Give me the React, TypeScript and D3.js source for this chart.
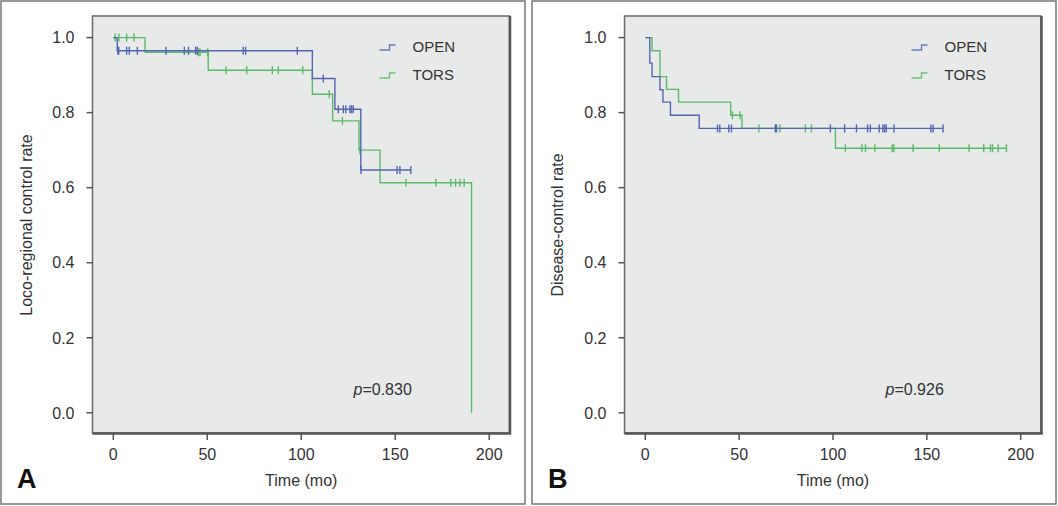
import React from "react";
import * as d3 from "d3";

// ---------- DATA ----------
const xTicks = [0, 50, 100, 150, 200];
const yTicks = [0, 0.2, 0.4, 0.6, 0.8, 1.0];
const seriesNames = ["OPEN", "TORS"];

// Panel A: loco-regional control
const aOpenDrops: [number, number][] = [[2.1, 0.965], [105.9, 0.891], [117.9, 0.809], [131.7, 0.647]];
const aOpenEnd = 158.3;
const aOpenCensor = [2.4, 2.9, 7.1, 8.5, 12.8, 28.0, 37.8, 40.0, 43.8, 44.7, 69.1, 70.4, 97.9, 111.7, 119.7, 122.4, 123.7, 125.9, 126.8, 127.7, 131.8, 151.0, 152.5, 158.3];
const aTorsDrops: [number, number][] = [[16.9, 0.961], [50.5, 0.913], [105.9, 0.849], [116.7, 0.778], [130.7, 0.70], [141.9, 0.613], [190.6, 0]];
const aTorsEnd = 190.6;
const aTorsCensor = [1.0, 3.0, 7.1, 11.0, 45.2, 46.1, 50.2, 60.0, 71.0, 84.6, 87.8, 100.8, 114.9, 121.9, 131.2, 155.7, 171.6, 179.6, 182.1, 184.4, 186.7];

// Panel B: disease control
const bOpenDrops: [number, number][] = [[2.4, 0.932], [3.6, 0.896], [7.8, 0.861], [9.4, 0.828], [13.4, 0.793], [28.7, 0.758]];
const bOpenEnd = 158.6;
const bOpenCensor = [38.5, 39.7, 44.5, 45.9, 69.3, 69.9, 98.6, 106.2, 112.5, 118.4, 119.9, 124.6, 126.6, 127.5, 128.4, 132.5, 152.1, 153.3, 158.6];
const bTorsDrops: [number, number][] = [[3.6, 0.965], [7.8, 0.896], [11.3, 0.862], [17.7, 0.828], [45.5, 0.793], [51.5, 0.758], [101.3, 0.705]];
const bTorsEnd = 192.6;
const bTorsCensor = [46.4, 50.4, 60.5, 71.7, 85.3, 88.5, 106.6, 115.4, 117.3, 122.3, 131.5, 132.4, 142.7, 156.6, 172.5, 180.3, 183.9, 185.0, 188.0, 192.4];

const COLORS = { OPEN: "#5366b0", TORS: "#5cba6a" };
const FONT = "'Liberation Sans', Arial, sans-serif";
const TXT = "#333";

type Series = { name: string; drops: [number, number][]; end: number; censor: number[] };

function survAt(drops: [number, number][], t: number) {
  let s = 1;
  for (const [dt, v] of drops) if (dt <= t + 1e-9) s = v;
  return s;
}

function Panel(props: {
  ox: number; ow: number; plotL: number; plotR: number; letter: string; yLabel: string; pval: string; series: Series[];
}) {
  const { ox, ow, plotL, plotR, letter, yLabel, pval, series } = props;
  const plotT = 16, plotB = 433;
  const x = d3.scaleLinear().domain([0, 200]).range([plotL + 20.8, plotR - 20.3]);
  const y = d3.scaleLinear().domain([0, 1]).range([412.8, 37.6]);
  const line = d3.line<[number, number]>().x(d => x(d[0])).y(d => y(d[1])).curve(d3.curveStepAfter);
  return (
    <g>
      <rect x={ox} y={1} width={ow} height={503} fill="#fff" stroke="#777" strokeWidth={1.5} />
      <rect x={plotL} y={plotT} width={plotR - plotL} height={plotB - plotT} fill="#e8e9e9" stroke="#6a6a6a" strokeWidth={1.5} />
      <line x1={plotR + 0.5} x2={plotR + 0.5} y1={plotT} y2={plotB + 1} stroke="#555" strokeWidth={2.5} />
      <line x1={plotL} x2={plotR + 1.5} y1={plotB + 0.5} y2={plotB + 0.5} stroke="#555" strokeWidth={2.5} />
      {yTicks.map(v => (
        <g key={v}>
          <line x1={plotL - 6} x2={plotL} y1={y(v)} y2={y(v)} stroke="#555" strokeWidth={1.5} />
          <text x={plotL - 18} y={y(v)} dy="0.36em" textAnchor="end" fontFamily={FONT} fontSize={16} fill={TXT}>{v.toFixed(1)}</text>
        </g>
      ))}
      {xTicks.map(v => (
        <g key={v}>
          <line x1={x(v)} x2={x(v)} y1={plotB} y2={plotB + 7} stroke="#555" strokeWidth={1.5} />
          <text x={x(v)} y={460} textAnchor="middle" fontFamily={FONT} fontSize={16} fill={TXT}>{v}</text>
        </g>
      ))}
      <text x={x(100)} y={486} textAnchor="middle" fontFamily={FONT} fontSize={16} fill={TXT}>Time (mo)</text>
      <text transform={`translate(${ox + 31},225) rotate(-90)`} textAnchor="middle" fontFamily={FONT} fontSize={16} fill={TXT}>{yLabel}</text>
      <text x={ox + 16} y={488} fontFamily={FONT} fontSize={27} fontWeight="bold" fill="#111">{letter}</text>
      <text x={plotL + 261} y={395} fontFamily={FONT} fontSize={16} fill={TXT}><tspan fontStyle="italic">p</tspan>={pval}</text>
      {series.map((s) => {
        const pts: [number, number][] = [[0, 1], ...s.drops.filter(d => d[0] < s.end || d[1] === 0), [s.end, survAt(s.drops, s.end)]];
        const col = (COLORS as any)[s.name];
        return (
          <g key={s.name}>
            <path d={line(pts) || ""} fill="none" stroke={col} strokeWidth={1.4} />
            {s.censor.map((c, j) => {
              const sv = survAt(s.drops, c);
              return <line key={j} x1={x(c)} x2={x(c)} y1={y(sv) - 4} y2={y(sv) + 4} stroke={col} strokeWidth={1.4} />;
            })}
          </g>
        );
      }).reverse()}
      {seriesNames.map((n, i) => {
        const ly = 50 + i * 28;
        const col = (COLORS as any)[n];
        const sx = plotL + 287;
        return (
          <g key={n}>
            <path d={`M${sx},${ly} H${sx + 10} V${ly - 5} H${sx + 16}`} fill="none" stroke={col} strokeWidth={1.4} opacity={0.85} />
            <text x={plotL + 320} y={ly - 3} dy="0.36em" fontFamily={FONT} fontSize={15} fill={TXT}>{n}</text>
          </g>
        );
      })}
    </g>
  );
}

export default function App() {
  const aSeries: Series[] = [
    { name: "OPEN", drops: aOpenDrops, end: aOpenEnd, censor: aOpenCensor },
    { name: "TORS", drops: aTorsDrops, end: aTorsEnd, censor: aTorsCensor },
  ];
  const bSeries: Series[] = [
    { name: "OPEN", drops: bOpenDrops, end: bOpenEnd, censor: bOpenCensor },
    { name: "TORS", drops: bTorsDrops, end: bTorsEnd, censor: bTorsCensor },
  ];
  return (
    <svg width={1058} height={506} style={{ position: "absolute", left: 0, top: 0, background: "#fff" }}>
      <Panel ox={1} ow={524} plotL={92.5} plotR={509.5} letter="A" yLabel="Loco-regional control rate" pval="0.830" series={aSeries} />
      <Panel ox={532} ow={524} plotL={624.5} plotR={1041} letter="B" yLabel="Disease-control rate" pval="0.926" series={bSeries} />
    </svg>
  );
}
